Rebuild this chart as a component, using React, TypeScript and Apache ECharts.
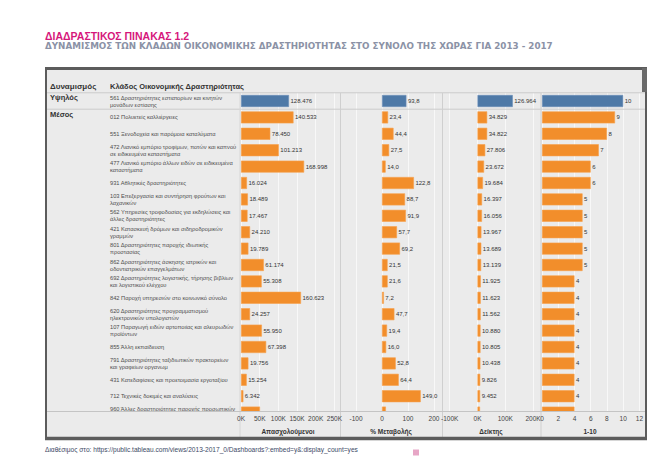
import React, { useEffect, useRef } from 'react';
import * as echarts from 'echarts';

const categories = [
  '561 Δραστηριότητες εστιατορίων και κινητών\nμονάδων εστίασης',
  '012 Πολυετείς καλλιέργειες',
  '551 Ξενοδοχεία και παρόμοια καταλύματα',
  '472 Λιανικό εμπόριο τροφίμων, ποτών και καπνού\nσε ειδικευμένα καταστήματα',
  '477 Λιανικό εμπόριο άλλων ειδών σε ειδικευμένα\nκαταστήματα',
  '931 Αθλητικές δραστηριότητες',
  '103 Επεξεργασία και συντήρηση φρούτων και\nλαχανικών',
  '562 Υπηρεσίες τροφοδοσίας για εκδηλώσεις και\nάλλες δραστηριότητες',
  '421 Κατασκευή δρόμων και σιδηροδρομικών\nγραμμών',
  '801 Δραστηριότητες παροχής ιδιωτικής\nπροστασίας',
  '862 Δραστηριότητες άσκησης ιατρικών και\nοδοντιατρικών επαγγελμάτων',
  '692 Δραστηριότητες λογιστικής, τήρησης βιβλίων\nκαι λογιστικού ελέγχου',
  '842 Παροχή υπηρεσιών στο κοινωνικό σύνολο',
  '620 Δραστηριότητες προγραμματισμού\nηλεκτρονικών υπολογιστών',
  '107 Παραγωγή ειδών αρτοποιίας και αλευρωδών\nπροϊόντων',
  '855 Άλλη εκπαίδευση',
  '791 Δραστηριότητες ταξιδιωτικών πρακτορείων\nκαι γραφείων οργανωμ',
  '431 Κατεδαφίσεις και προετοιμασία εργοταξίου',
  '712 Τεχνικές δοκιμές και αναλύσεις',
  '960 Άλλες δραστηριότητες παροχής προσωπικών\nυπηρεσιών',
];
const dynamism = ['Υψηλός', 'Μέσος', 'Μέσος', 'Μέσος', 'Μέσος', 'Μέσος', 'Μέσος', 'Μέσος', 'Μέσος', 'Μέσος', 'Μέσος', 'Μέσος', 'Μέσος', 'Μέσος', 'Μέσος', 'Μέσος', 'Μέσος', 'Μέσος', 'Μέσος', 'Μέσος'];
const employees = [128476, 140533, 78450, 101213, 168998, 16024, 18489, 17467, 24210, 19789, 61174, 55308, 160623, 24257, 55950, 67398, 19756, 15254, 6342, 50800];
const changePct = [93.8, 23.4, 44.4, 27.5, 14.0, 122.8, 88.7, 91.9, 57.7, 69.2, 21.5, 21.6, 7.2, 47.7, 19.4, 16.0, 52.8, 64.4, 149.0, 15.0];
const indexValues = [126964, 34829, 34822, 27806, 23672, 19684, 16397, 16056, 13967, 13689, 13139, 11925, 11623, 11562, 10880, 10805, 10438, 9826, 9452, 9000];
const scores = [10, 9, 8, 7, 6, 6, 5, 5, 5, 5, 5, 4, 4, 4, 4, 4, 4, 4, 4, 4];
const axisTitles = ['Απασχολούμενοι', '% Μεταβολής', 'Δείκτης', '1-10'];
const employeeTicks = [0, 50000, 100000, 150000, 200000, 250000];
const changeTicks = [-100, 0, 100, 200];
const indexTicks = [-100000, 0, 100000, 200000];
const scoreTicks = [0, 2, 4, 6, 8, 10, 12];
const visibleRows = 19;

const FONT = "'Liberation Sans', Arial, sans-serif";
const BLUE = '#4e79a7';
const ORANGE = '#f28e2b';
const BG = '#ebebeb';
const GRIDLINE = '#f8f8f8';

const fmtThousands = (v: number) => Math.round(v).toString().replace(/\B(?=(\d{3})+(?!\d))/g, '.');
const fmtPct = (v: number) => v.toFixed(1).replace('.', ',');
const fmtK = (v: number) => `${Math.round(v / 1000)}K`;

export default function App() {
  const ref = useRef<HTMLDivElement>(null);
  useEffect(() => {
    if (!ref.current) return;
    const chart = echarts.init(ref.current, undefined, { renderer: 'svg' });
    const rowTop = 92.8;
    const rowH = 16.4;
    const n = categories.length;
    const axisY = 411.5;

    const panels = [
      { values: employees, ticks: employeeTicks, zero: 241, pxPer: 99 / 265000, left: 241, right: 340, center: 288, labelFmt: fmtThousands, tickFmt: fmtK },
      { values: changePct, ticks: changeTicks, zero: 382, pxPer: 101 / 388.5, left: 341, right: 442, center: 391, labelFmt: fmtPct, tickFmt: (v: number) => `${Math.round(v)}` },
      { values: indexValues, ticks: indexTicks, zero: 477.5, pxPer: 97 / 349000, left: 443, right: 540, center: 491, labelFmt: fmtThousands, tickFmt: fmtK },
      { values: scores, ticks: scoreTicks, zero: 542, pxPer: 99 / 12.2, left: 542, right: 641, center: 590, labelFmt: (v: number) => `${v}`, tickFmt: (v: number) => `${v}` },
    ];

    const grids: any[] = [];
    const xAxes: any[] = [];
    const yAxes: any[] = [];

    panels.forEach((p, i) => {
      grids.push({ left: p.left, width: p.right - p.left, top: rowTop, height: rowH * n, show: false });
      xAxes.push({
        gridIndex: i, type: 'value',
        min: (p.left - p.zero) / p.pxPer,
        max: (p.right - p.zero) / p.pxPer,
        show: false,
        splitLine: { show: false },
      });
      yAxes.push({
        gridIndex: i,
        type: 'category',
        data: categories,
        inverse: true,
        axisLine: { show: false, onZero: false },
        axisTick: { show: false },
        splitLine: { show: false },
        axisLabel: i === 0
          ? { show: true, interval: 0, align: 'left', margin: 241 - 110, fontSize: 5.7, lineHeight: 7, color: '#4d4d4d', fontFamily: FONT }
          : { show: false },
      });
    });

    panels.forEach((p, i) => {
      const t0 = p.ticks[0];
      const t1 = p.ticks[p.ticks.length - 1];
      const step = p.ticks[1] - p.ticks[0];
      const gi = 4 + i;
      grids.push({ left: p.zero + t0 * p.pxPer, width: (t1 - t0) * p.pxPer, top: rowTop, height: axisY - rowTop, show: false });
      xAxes.push({
        gridIndex: gi, type: 'value', min: t0, max: t1, interval: step,
        position: 'bottom',
        z: 0,
        axisLine: { show: false, onZero: false },
        axisTick: { show: false },
        axisLabel: { show: false },
        splitLine: { show: true, lineStyle: { color: GRIDLINE, width: 1 } },
      });
      yAxes.push({ gridIndex: gi, type: 'value', min: 0, max: 1, show: false, axisLabel: { show: false }, splitLine: { show: false } });
    });

    const series = panels.map((p, i) => ({
      type: 'bar',
      xAxisIndex: i,
      yAxisIndex: i,
      barWidth: 12,
      z: 2,
      data: p.values.map((v, j) => ({
        value: v,
        itemStyle: { color: dynamism[j] === 'Υψηλός' ? BLUE : ORANGE, borderColor: dynamism[j] === 'Υψηλός' ? '#6b8fb8' : '#f6a14d', borderWidth: 0.6 },
        label: j >= visibleRows ? { show: false } : undefined,
      })),
      label: {
        show: true,
        position: 'right',
        distance: 1.5,
        fontSize: 6,
        color: '#333',
        fontFamily: FONT,
        formatter: (prm: any) => p.labelFmt(prm.value),
      },
    }));

    const sepLines = [240, 340.5, 442.5, 541].map((x) => ({
      type: 'line', z: 55, silent: true,
      shape: { x1: x, y1: 93, x2: x, y2: 437 },
      style: { stroke: x === 240 ? '#d6d6d6' : '#cfcfcf', lineWidth: 1 },
    }));

    const titleTexts = panels.map((p, i) => ({
      type: 'text', z: 80, x: p.center, y: 431,
      style: { text: axisTitles[i], fill: '#333', font: `bold 6.5px ${FONT}`, textAlign: 'center', textVerticalAlign: 'middle' },
    }));

    const graphic: any[] = [
      { type: 'rect', z: -10, silent: true, shape: { x: 46, y: 68, width: 600, height: 371 }, style: { fill: BG, stroke: '#5c5c5c', lineWidth: 2 } },
      { type: 'line', z: 70, silent: true, shape: { x1: 45, y1: 68.5, x2: 647, y2: 68.5 }, style: { stroke: '#5c5c5c', lineWidth: 3 } },
      { type: 'line', z: 70, silent: true, shape: { x1: 45, y1: 438.5, x2: 647, y2: 438.5 }, style: { stroke: '#5c5c5c', lineWidth: 3.5 } },
      { type: 'rect', z: 70, silent: true, shape: { x: 642, y: 68, width: 5, height: 24 }, style: { fill: '#6a6a6a' } },
      { type: 'line', z: 1, silent: true, shape: { x1: 47, y1: 92.8, x2: 645, y2: 92.8 }, style: { stroke: '#cbcbcb', lineWidth: 1 } },
      { type: 'line', z: 1, silent: true, shape: { x1: 47, y1: 109.2, x2: 645, y2: 109.2 }, style: { stroke: '#cbcbcb', lineWidth: 1 } },
      { type: 'rect', z: 50, silent: true, shape: { x: 47, y: axisY, width: 597, height: 26 }, style: { fill: BG } },
      { type: 'line', z: 56, silent: true, shape: { x1: 47, y1: axisY, x2: 645, y2: axisY }, style: { stroke: '#c4c4c4', lineWidth: 1 } },
      ...sepLines,
      ...titleTexts,
      { type: 'text', z: 80, x: 45, y: 36, style: { text: 'ΔΙΑΔΡΑΣΤΙΚΟΣ ΠΙΝΑΚΑΣ 1.2', fill: '#d6177b', font: "bold 10.5px 'Liberation Sans Narrow', 'Liberation Sans', sans-serif", textVerticalAlign: 'middle' } },
      { type: 'text', z: 80, x: 45, y: 45.5, style: { text: 'ΔΥΝΑΜΙΣΜΟΣ ΤΩΝ ΚΛΑΔΩΝ ΟΙΚΟΝΟΜΙΚΗΣ ΔΡΑΣΤΗΡΙΟΤΗΤΑΣ ΣΤΟ ΣΥΝΟΛΟ ΤΗΣ ΧΩΡΑΣ ΓΙΑ 2013 - 2017', fill: '#8b92a6', font: "bold 8.75px 'DejaVu Sans', sans-serif", textVerticalAlign: 'middle' } },
      { type: 'text', z: 80, x: 50, y: 86, style: { text: 'Δυναμισμός', fill: '#333', font: `bold 8px ${FONT}`, textVerticalAlign: 'middle' } },
      { type: 'text', z: 80, x: 110, y: 86, style: { text: 'Κλάδος Οικονομικής Δραστηριότητας', fill: '#333', font: `bold 7.5px ${FONT}`, textVerticalAlign: 'middle' } },
      { type: 'text', z: 80, x: 50, y: 97.5, style: { text: dynamism[0], fill: '#333', font: `bold 7.5px ${FONT}`, textVerticalAlign: 'middle' } },
      { type: 'text', z: 80, x: 50, y: 114.5, style: { text: dynamism[1], fill: '#333', font: `bold 7.5px ${FONT}`, textVerticalAlign: 'middle' } },
      { type: 'text', z: 80, x: 45, y: 449, style: { text: 'Διαθέσιμος στο: https://public.tableau.com/views/2013-2017_0/Dashboards?:embed=y&:display_count=yes', fill: '#3d4a66', font: `6.6px ${FONT}`, textVerticalAlign: 'middle' } },
      { type: 'rect', z: 80, silent: true, shape: { x: 413, y: 449.5, width: 6, height: 6 }, style: { fill: '#e7a6c6' } },
    ];

    chart.setOption({
      animation: false,
      backgroundColor: '#ffffff',
      grid: grids,
      xAxis: xAxes,
      yAxis: yAxes,
      series,
      graphic,
    });

    const tickTexts: any[] = [];
    panels.forEach((p, i) => {
      p.ticks.forEach((t) => {
        const px = chart.convertToPixel({ xAxisIndex: 4 + i }, t) as unknown as number;
        const x = typeof px === 'number' && isFinite(px) ? px : p.zero + t * p.pxPer;
        tickTexts.push({
          type: 'text', z: 90, zlevel: 0, silent: true, x, y: axisY + 6.8,
          style: { text: p.tickFmt(t), fill: '#444', font: `6.5px ${FONT}`, textAlign: 'center', textVerticalAlign: 'middle' },
        });
      });
    });
    chart.setOption({ graphic: [...graphic, ...tickTexts] });

    return () => chart.dispose();
  }, []);
  return <div ref={ref} style={{ position: 'fixed', left: 0, top: 0, width: 660, height: 456 }} />;
}
